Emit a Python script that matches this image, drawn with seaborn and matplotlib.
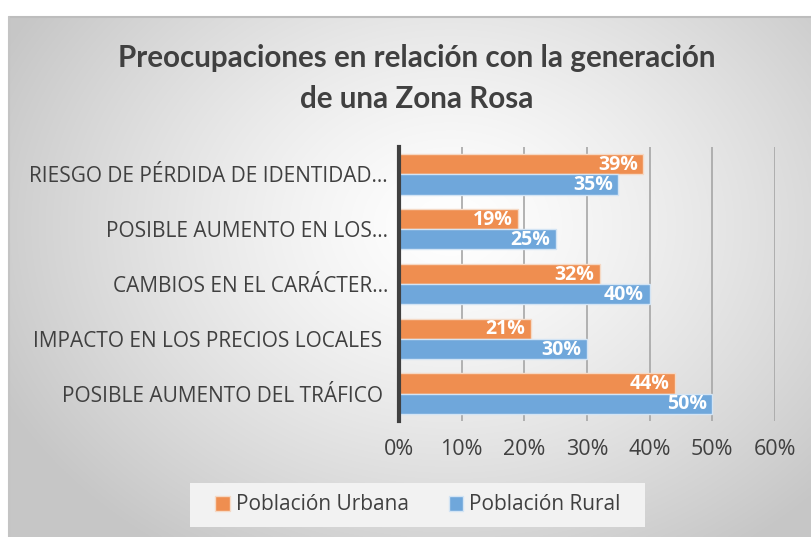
import numpy as np
import pandas as pd
import matplotlib
matplotlib.use("Agg")
import matplotlib.pyplot as plt
import seaborn as sns
from matplotlib.patches import Patch, Rectangle

categories = [
    "RIESGO DE PÉRDIDA DE IDENTIDAD…",
    "POSIBLE AUMENTO EN LOS…",
    "CAMBIOS EN EL CARÁCTER…",
    "IMPACTO EN LOS PRECIOS LOCALES ",
    "POSIBLE AUMENTO DEL TRÁFICO ",
]
urbana = [39, 19, 32, 21, 44]
rural = [35, 25, 40, 30, 50]
series = ["Población Urbana", "Población Rural"]
xticks = [0, 10, 20, 30, 40, 50, 60]

df = pd.DataFrame({
    "cat": categories * 2,
    "val": urbana + rural,
    "serie": [series[0]] * len(categories) + [series[1]] * len(categories),
})

sns.set_theme(style="white")
plt.rcParams["font.family"] = ["Open Sans", "DejaVu Sans"]

W, H = 811, 537
fig = plt.figure(figsize=(W / 100, H / 100), dpi=100)
fig.patch.set_facecolor("white")

# background chart area with radial gradient
bx0, by0 = 9, 17
bg = fig.add_axes([bx0 / W, 0, 1 - bx0 / W, 1 - by0 / H])
ny, nx = 300, 450
yy, xx = np.mgrid[0:ny, 0:nx]
cx, cy = nx * 0.55, ny * 0.40
r = np.sqrt(((xx - cx) / (nx * 0.62)) ** 2 + ((yy - cy) / (ny * 0.75)) ** 2)
r = np.clip(r, 0, 1)
val = 1.0 - (1.0 - 0.78) * r ** 1.3
img = np.dstack([val, val, val])
bg.imshow(img, aspect="auto", extent=[0, 1, 0, 1], interpolation="bilinear")
bg.set_xlim(0, 1)
bg.set_ylim(0, 1)
bg.axis("off")
fig.add_artist(plt.Line2D([bx0 / W, 1], [1 - by0 / H, 1 - by0 / H], color="#bdbdbd", lw=1.5, transform=fig.transFigure))
fig.add_artist(plt.Line2D([bx0 / W, bx0 / W], [0, 1 - by0 / H], color="#c4c4c4", lw=1.5, transform=fig.transFigure))

ax = fig.add_axes([399 / W, 1 - 421 / H, 376 / W, (421 - 147) / H])
ax.set_facecolor("none")
colors = ["#EF8E50", "#6FA7DB"]
sns.barplot(data=df, y="cat", x="val", hue="serie", hue_order=series,
            order=categories, palette=colors, saturation=1, width=0.74, ax=ax,
            edgecolor="#f5d9c5", linewidth=1.0, legend=False, orient="h")
for i, p in enumerate(ax.patches):
    if i >= len(categories):
        p.set_edgecolor("#d3e4f4")

for cont in ax.containers:
    for p, v in zip(cont.patches, cont.datavalues):
        ax.annotate(f"{int(v)}%", xy=(p.get_x() + p.get_width(), p.get_y() + p.get_height() / 2),
                    xytext=(-4, -0.5), textcoords="offset points", ha="right", va="center",
                    color="white", fontsize=14, fontweight="bold")

ax.set_xlim(0, 60)
ax.set_xticks(xticks)
ax.set_xticklabels([f"{t}%" for t in xticks], fontsize=15.5, color="#404040")
ax.tick_params(axis="x", length=0, pad=13)
ax.tick_params(axis="y", length=0, pad=8, labelsize=15, labelcolor="#404040")
ax.xaxis.grid(True, color="#a6a6a6", lw=1.2)
ax.set_axisbelow(True)
for s in ["top", "right", "bottom"]:
    ax.spines[s].set_visible(False)
ax.spines["left"].set_color("#404040")
ax.spines["left"].set_linewidth(3)
ax.set_xlabel("")
ax.set_ylabel("")

tfam = ["Lato", "DejaVu Sans"]
fig.text(417 / W, 1 - 58 / H, "Preocupaciones en relación con la generación", ha="center", va="center",
         fontsize=21.3, fontweight="bold", color="#404040", family=tfam)
fig.text(417 / W, 1 - 99 / H, "de una Zona Rosa", ha="center", va="center",
         fontsize=21.3, fontweight="bold", color="#404040", family=tfam)

# legend
fig.add_artist(Rectangle((190 / W, 1 - 527 / H), 455 / W, 44 / H, transform=fig.transFigure,
                         facecolor="#f2f2f2", edgecolor="none", zorder=1))
handles = [Patch(facecolor=colors[0], edgecolor="#f5d9c5"), Patch(facecolor=colors[1], edgecolor="#d3e4f4")]
leg = fig.legend(handles, series, loc="center", bbox_to_anchor=(418 / W, 1 - 505 / H),
                 ncol=2, frameon=False, fontsize=15, handlelength=0.7, handleheight=0.7,
                 handletextpad=0.3, columnspacing=1.9)
for t in leg.get_texts():
    t.set_color("#404040")

fig.savefig("out.png", dpi=100)
